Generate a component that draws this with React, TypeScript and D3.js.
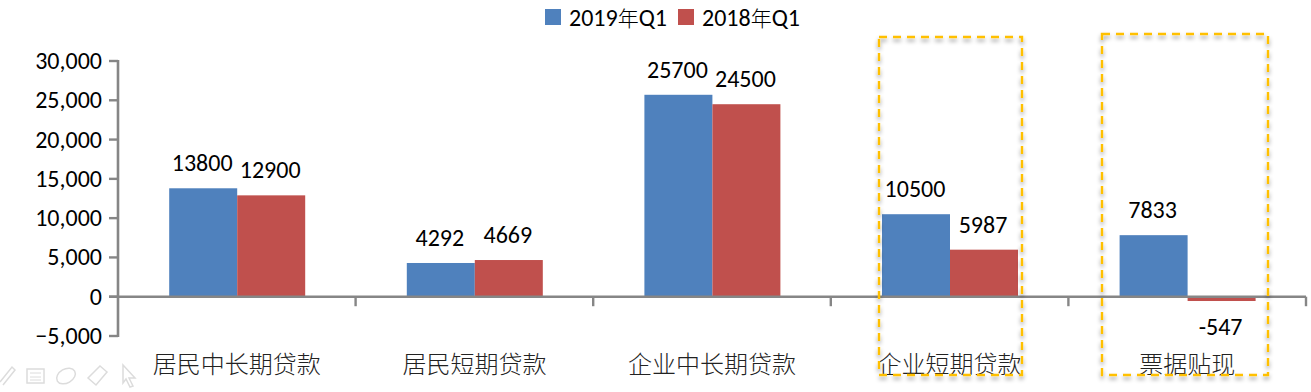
import React from "react";
import * as d3 from "d3";

const categories = ["居民中长期贷款", "居民短期贷款", "企业中长期贷款", "企业短期贷款", "票据贴现"];
const series2019 = [13800, 4292, 25700, 10500, 7833];
const series2018 = [12900, 4669, 24500, 5987, -547];
const seriesNames = ["2019年Q1", "2018年Q1"];
const seriesColors = ["#4f81bd", "#c0504d"];
const yTicks = [-5000, 0, 5000, 10000, 15000, 20000, 25000, 30000];
const highlighted = [
  { x0: 879, y0: 37, x1: 1022, y1: 375 },
  { x0: 1102, y0: 34, x1: 1268, y1: 375 },
];

const W = 1311, H = 392;
const LATIN = "Carlito, Calibri, 'Open Sans', 'Noto Sans', sans-serif";
const CJK = "'Noto Sans CJK SC', sans-serif";
const AXIS = "#868686";

export default function App() {
  const y = d3.scaleLinear().domain([-5000, 30000]).range([336, 61]);
  const x = d3.scaleBand<string>().domain(categories).range([118, 1306]);
  const inner = d3.scaleBand<string>().domain(["a", "b"]).range([0, 136]);
  const fmt = d3.format(",");
  const y0 = y(0);
  const all = [series2019, series2018];
  const keys = ["a", "b"];
  const barX = (i: number, s: number) => x(categories[i])! + (x.bandwidth() - 136) / 2 + inner(keys[s])! + 0.4;

  return (
    <svg
      width={W}
      height={H}
      viewBox={`0 0 ${W} ${H}`}
      style={{ position: "absolute", left: 0, top: 0, background: "#fff" }}
    >
      <defs>
        <filter id="sh" x="-5%" y="-5%" width="110%" height="110%">
          <feDropShadow dx="0" dy="3" stdDeviation="2" floodColor="#000" floodOpacity="0.4" />
        </filter>
      </defs>

      {/* legend */}
      <g>
        {seriesNames.map((n, i) => {
          const lx = i === 0 ? 545 : 678;
          return (
            <g key={n}>
              <rect x={lx} y={9} width={16} height={16} fill={seriesColors[i]} />
              <text x={lx + 24} y={26} fontSize={24} fill="#000" fontFamily={LATIN}>
                <tspan>{n.slice(0, 4)}</tspan>
                <tspan fontFamily={CJK} fontSize={21} fontWeight={300}>{n.slice(4, 5)}</tspan>
                <tspan>{n.slice(5)}</tspan>
              </text>
            </g>
          );
        })}
      </g>

      {/* bars */}
      {all.map((vals, s) =>
        vals.map((v, i) => (
          <rect
            key={`${s}-${i}`}
            x={barX(i, s)}
            y={Math.min(y(v), y0)}
            width={inner.bandwidth()}
            height={Math.abs(y(v) - y0)}
            fill={seriesColors[s]}
          />
        ))
      )}

      {/* y axis */}
      <line x1={118} x2={118} y1={y(30000) - 1} y2={y(-5000) + 1} stroke={AXIS} strokeWidth={2.6} />
      {yTicks.map((t) => (
        <g key={t}>
          <line x1={109} x2={118} y1={y(t)} y2={y(t)} stroke={AXIS} strokeWidth={2.4} />
          <text x={102} y={y(t) + 8} textAnchor="end" fontSize={24} fill="#000" fontFamily={LATIN}>
            {fmt(t)}
          </text>
        </g>
      ))}

      {/* x axis */}
      <line x1={109} x2={1306} y1={y0} y2={y0} stroke={AXIS} strokeWidth={2.6} />
      {categories.map((c, i) => {
        const right = x(c)! + x.bandwidth();
        return <line key={i} x1={right} x2={right} y1={y0} y2={y0 + 9.5} stroke={AXIS} strokeWidth={2.4} />;
      })}
      {categories.map((c) => (
        <text
          key={c}
          x={x(c)! + x.bandwidth() / 2}
          y={373}
          textAnchor="middle"
          fontSize={24}
          fontWeight={300}
          fill="#222"
          fontFamily={CJK}
        >
          {c}
        </text>
      ))}

      {/* data labels */}
      {all.map((vals, s) =>
        vals.map((v, i) => {
          const cx = barX(i, s) + inner.bandwidth() / 2;
          const ly = v >= 0 ? y(v) - 17 : y(v) + 34;
          return (
            <text key={`${s}-${i}`} x={cx - 1} y={ly} textAnchor="middle" fontSize={24} fill="#000" fontFamily={LATIN}>
              {v}
            </text>
          );
        })
      )}

      {/* highlight boxes */}
      {highlighted.map((b, i) => (
        <rect
          key={i}
          x={b.x0}
          y={b.y0}
          width={b.x1 - b.x0}
          height={b.y1 - b.y0}
          fill="none"
          stroke="#ffc000"
          strokeWidth={2.4}
          strokeDasharray="8 6"
          filter="url(#sh)"
        />
      ))}

      {/* faint toolbar icons */}
      <g fill="none" stroke="#dcdcdc" strokeWidth={1.5}>
        <path d="M0 382 L12 367 L15 370 L3 385" />
        <rect x={27} y={369} width={17} height={14} />
        <path d="M30 373 H41 M30 377 H41 M30 380 H41" strokeWidth={1} />
        <ellipse cx={66} cy={376} rx={10} ry={7} transform="rotate(-30 66 376)" />
        <path d="M88 378 L100 366 L107 372 L96 385 Z" />
        <path d="M123 365 L135 378 L129 378 L133 386 L130 387 L126 379 L123 383 Z" />
      </g>
    </svg>
  );
}
